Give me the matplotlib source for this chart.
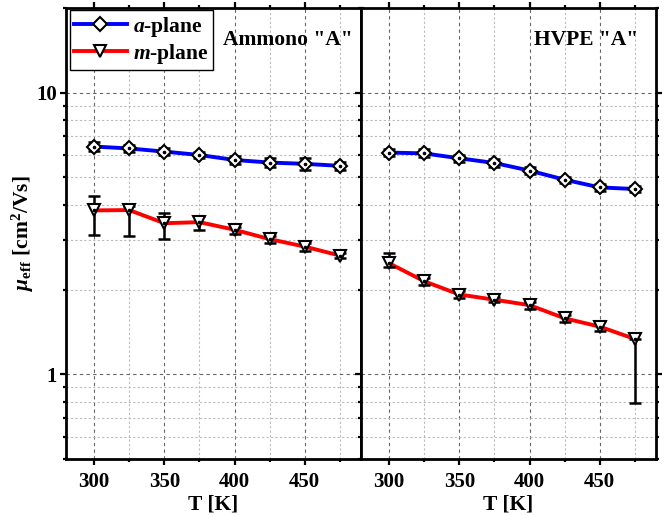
import matplotlib
matplotlib.use("Agg")
import matplotlib.pyplot as plt
from matplotlib.ticker import LogLocator, MultipleLocator, FixedLocator, FixedFormatter, NullFormatter
from matplotlib.lines import Line2D

plt.rcParams['font.family'] = ['Liberation Serif', 'DejaVu Serif']
plt.rcParams['font.weight'] = 'bold'
plt.rcParams['mathtext.fontset'] = 'custom'
plt.rcParams['mathtext.rm'] = 'Liberation Serif:bold'
plt.rcParams['mathtext.it'] = 'Liberation Serif:italic:bold'
plt.rcParams['mathtext.bf'] = 'Liberation Serif:bold'

# ---- data ----
T = [300, 325, 350, 375, 400, 425, 450, 475]

ammono_a = [6.44, 6.34, 6.18, 6.01, 5.77, 5.65, 5.59, 5.50]
ammono_a_err = [0.22, 0.18, 0.18, 0.15, 0.17, 0.2, 0.26, 0.18]
ammono_m = [3.82, 3.83, 3.44, 3.47, 3.26, 3.02, 2.84, 2.64]
ammono_m_lo = [0.69, 0.74, 0.41, 0.21, 0.1, 0.1, 0.1, 0.06]
ammono_m_hi = [0.46, 0.14, 0.29, 0.19, 0.08, 0.08, 0.08, 0.05]

hvpe_a = [6.13, 6.09, 5.85, 5.63, 5.29, 4.91, 4.61, 4.55]
hvpe_a_err = [0.17, 0.2, 0.17, 0.17, 0.14, 0.12, 0.14, 0.1]
hvpe_m = [2.48, 2.14, 1.92, 1.84, 1.76, 1.58, 1.476, 1.334]
hvpe_m_lo = [0.08, 0.07, 0.06, 0.04, 0.05, 0.05, 0.05, 0.544]
hvpe_m_hi = [0.21, 0.06, 0.06, 0.04, 0.04, 0.05, 0.07, 0.0]

titles = ['Ammono "A"', 'HVPE "A"']
legend_labels = ['$a$-plane', '$m$-plane']
xticks = [300, 350, 400, 450]
yticks = [0.1, 1, 10, 100]
ytick_labels = ['0.1', '1', '10', '100']
ylabel = r'$\mu_{\mathrm{eff}}$ [cm$^2$/Vs]'
xlabel = 'T [K]'

BLUE = '#0000ff'
RED = '#ff0000'

fig = plt.figure(figsize=(6.68, 5.16), dpi=100)
left, right, bottom, top = 66/668, 656/668, 1 - 459/516, 1 - 8/516
w = (right - left) / 2
ax1 = fig.add_axes([left, bottom, w, top - bottom])
ax2 = fig.add_axes([left + w, bottom, w, top - bottom], sharey=ax1)

panels = [
    (ax1, ammono_a, ammono_a_err, ammono_m, ammono_m_lo, ammono_m_hi, titles[0], 0.97),
    (ax2, hvpe_a, hvpe_a_err, hvpe_m, hvpe_m_lo, hvpe_m_hi, titles[1], 0.94),
]

for ax, ya, yae, ym, yml, ymh, title, tx in panels:
    ax.set_yscale('log')
    ax.set_xlim(280, 490)
    ax.xaxis.set_major_locator(FixedLocator(xticks))
    ax.xaxis.set_minor_locator(MultipleLocator(25))
    ax.yaxis.set_major_locator(FixedLocator(yticks))
    ax.yaxis.set_minor_locator(LogLocator(base=10, subs=range(2, 10), numticks=10))
    ax.yaxis.set_minor_formatter(NullFormatter())
    ax.grid(True, which='major', color='#666666', linestyle=(0, (3, 3)), linewidth=0.8)
    ax.grid(True, which='minor', color='#bbbbbb', linestyle=(0, (2, 2)), linewidth=0.8)
    ax.set_axisbelow(True)

    for y, lo, hi, col in [(ya, yae, yae, BLUE), (ym, yml, ymh, RED)]:
        ax.plot(T, y, color=col, linewidth=2.8, zorder=3)
        ax.errorbar(T, y, yerr=[lo, hi], fmt='none', ecolor='black',
                    elinewidth=1.8, capsize=4, capthick=1.8, zorder=4)
    ax.plot(T, ya, linestyle='none', marker='D', markersize=7, markerfacecolor='white',
            markeredgecolor='black', markeredgewidth=1.5, zorder=5)
    ax.plot(T, ym, linestyle='none', marker='v', markersize=8.5, markerfacecolor='white',
            markeredgecolor='black', markeredgewidth=1.5, zorder=5)
    ax.plot(T, ya, linestyle='none', marker='o', markersize=1.6, color='black', zorder=6)
    ax.plot(T, ym, linestyle='none', marker='o', markersize=1.6, color='black', zorder=6)

    for s in ax.spines.values():
        s.set_linewidth(2)
    ax.tick_params(which='both', direction='out', top=True, right=True, width=1.6)
    ax.tick_params(which='major', length=4.5, labelsize=15)
    ax.tick_params(which='minor', length=2.5)
    ax.tick_params(axis='x', which='major', pad=5)
    ax.tick_params(axis='y', which='major', pad=2)
    ax.set_xlabel(xlabel, fontsize=15.5, fontweight='bold', labelpad=2)
    ax.text(tx, 0.93, title, transform=ax.transAxes, ha='right', va='center',
            fontsize=15.5, fontweight='bold')

ax1.yaxis.set_major_formatter(FixedFormatter(ytick_labels))
ax1.set_ylim(0.5, 20)
plt.setp(ax2.get_yticklabels(), visible=False)
for lab in ax1.get_xticklabels() + ax1.get_yticklabels() + ax2.get_xticklabels():
    lab.set_fontweight('bold')
ax1.set_ylabel(ylabel, fontsize=15.5, fontweight='bold', labelpad=0)

handles = [
    Line2D([], [], color=BLUE, linewidth=2.8, marker='D', markersize=7,
           markerfacecolor='white', markeredgecolor='black', markeredgewidth=1.5),
    Line2D([], [], color=RED, linewidth=2.8, marker='v', markersize=8.5,
           markerfacecolor='white', markeredgecolor='black', markeredgewidth=1.5),
]
leg = ax1.legend(handles, legend_labels, loc='upper left', bbox_to_anchor=(0.012, 0.995),
                 prop={'family': 'Liberation Serif', 'weight': 'bold', 'size': 15.5},
                 frameon=True, fancybox=False, edgecolor='black', framealpha=1,
                 borderpad=0.2, handlelength=2.45, handletextpad=0.3, labelspacing=0.15,
                 borderaxespad=0.0)
leg.get_frame().set_linewidth(1.0)

fig.savefig('out.png', dpi=100)
